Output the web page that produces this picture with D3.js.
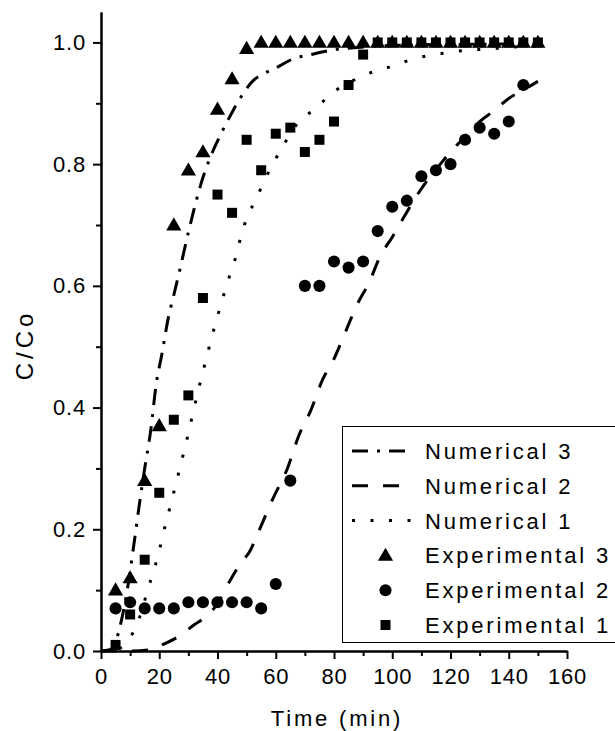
<!DOCTYPE html>
<html>
<head>
<meta charset="utf-8">
<script src="https://cdn.jsdelivr.net/npm/d3@7"></script>
<style>
  html, body { margin: 0; padding: 0; background: #fff; }
  svg { display: block; }
  text { font-family: "Liberation Sans", Arial, sans-serif; fill: #000; }
</style>
</head>
<body>
<svg id="chart" width="615" height="731"></svg>
<script>
// ---------- data ----------
const expTime = [5,10,15,20,25,30,35,40,45,50,55,60,65,70,75,80,85,90,95,100,105,110,115,120,125,130,135,140,145,150];
const exp3 = [0.10,0.12,0.28,0.37,0.70,0.79,0.82,0.89,0.94,0.99,1,1,1,1,1,1,1,1,1,1,1,1,1,1,1,1,1,1,1,1];
const exp2 = [0.07,0.08,0.07,0.07,0.07,0.08,0.08,0.08,0.08,0.08,0.07,0.11,0.28,0.60,0.60,0.64,0.63,0.64,0.69,0.73,0.74,0.78,0.79,0.80,0.84,0.86,0.85,0.87,0.93,null];
const exp1 = [0.01,0.06,0.15,0.26,0.38,0.42,0.58,0.75,0.72,0.84,0.79,0.85,0.86,0.82,0.84,0.87,0.93,0.98,1,1,1,1,1,1,1,1,1,1,1,1];

const num3Time = [0,3,5,7,9,11,13,15,17,19,21,23,25,27,30,33,35,37,40,44,48,52,56,60,66,72,80,86,95,110,130,150];
const num3 = [0,0.002,0.015,0.05,0.1,0.165,0.235,0.3,0.36,0.44,0.49,0.545,0.585,0.625,0.688,0.745,0.778,0.805,0.838,0.876,0.91,0.936,0.949,0.958,0.973,0.98,0.988,0.991,0.994,0.996,0.997,0.998];

const num2Time = [0,10,17,21,27,32,37,40,44,48,51,54,59,64,68,72,76,80,84,88,92,96,100,104,108,112,116,120,125,130,135,140,145,150];
const num2 = [0,0,0.002,0.01,0.025,0.043,0.06,0.078,0.113,0.145,0.163,0.195,0.25,0.3,0.355,0.395,0.445,0.48,0.525,0.57,0.605,0.65,0.68,0.713,0.745,0.773,0.797,0.82,0.845,0.87,0.888,0.908,0.922,0.936];

const num1Time = [0,5,8,10,12,14,16,18,20,22,24,26,28,30,32,34,36,38,40,42,44,46,48,50,53,56,59,63,67,74,80,86,93,100,106,112,119,125,132,138,144,150];
const num1 = [0,0.002,0.01,0.022,0.04,0.066,0.1,0.13,0.165,0.205,0.242,0.28,0.318,0.358,0.4,0.44,0.478,0.515,0.55,0.583,0.614,0.643,0.68,0.711,0.74,0.772,0.8,0.834,0.864,0.893,0.919,0.936,0.951,0.961,0.971,0.978,0.983,0.987,0.989,0.991,0.993,0.994];

const xMajorTicks = [0,20,40,60,80,100,120,140,160];
const xMinorTicks = [10,30,50,70,90,110,130,150];
const yMajorTicks = [0,0.2,0.4,0.6,0.8,1.0];
const yMinorTicks = [0.1,0.3,0.5,0.7,0.9];

const legendItems = [
  {label: "Numerical 3", type: "line", dash: "16,9,3,9"},
  {label: "Numerical 2", type: "line", dash: "16,15"},
  {label: "Numerical 1", type: "line", dash: "3,15.5"},
  {label: "Experimental 3", type: "symbol", symbol: "triangle"},
  {label: "Experimental 2", type: "symbol", symbol: "circle"},
  {label: "Experimental 1", type: "symbol", symbol: "square"}
];

// ---------- chart ----------
const svg = d3.select("#chart");
svg.append("rect").attr("width", 615).attr("height", 731).attr("fill", "#fff");

const x = d3.scaleLinear().domain([0, 160]).range([101, 567]);
const y = d3.scaleLinear().domain([0, 1.05]).range([651, 12]);

const symbols = {
  triangle: d3.symbol().type(d3.symbolTriangle).size(100),
  circle: d3.symbol().type(d3.symbolCircle).size(115),
  square: d3.symbol().type(d3.symbolSquare).size(100)
};

// lines
const lineGen = d3.line().x(d => x(d[0])).y(d => y(d[1])).curve(d3.curveMonotoneX);
const lines = [
  {t: num3Time, v: num3, dash: "16,9,3,9"},
  {t: num2Time, v: num2, dash: "16,15"},
  {t: num1Time, v: num1, dash: "3,15.5"}
];
lines.forEach(l => {
  svg.append("path")
    .attr("d", lineGen(l.t.map((t, i) => [t, l.v[i]])))
    .attr("fill", "none")
    .attr("stroke", "#000")
    .attr("stroke-width", 3)
    .attr("stroke-dasharray", l.dash);
});

// markers
const series = [
  {v: exp1, sym: "square"},
  {v: exp2, sym: "circle"},
  {v: exp3, sym: "triangle"}
];
series.forEach(s => {
  svg.append("g").selectAll("path")
    .data(expTime.map((t, i) => [t, s.v[i]]).filter(d => d[1] !== null))
    .join("path")
    .attr("transform", d => `translate(${x(d[0])},${y(d[1]) + (s.sym === "triangle" ? 1 : 0)})`)
    .attr("d", symbols[s.sym]())
    .attr("fill", "#000");
});

// axes
function styleAxis(g) {
  g.select(".domain").attr("stroke", "#000").attr("stroke-width", 2);
  g.selectAll(".tick line").attr("stroke", "#000").attr("stroke-width", 2);
  g.selectAll("text").style("font-size", "22px").style("letter-spacing", "0.8px")
    .style("font-family", '"Liberation Sans", Arial, sans-serif').attr("fill", "#000");
}

const xAxis = svg.append("g").attr("transform", "translate(0,651)")
  .call(d3.axisBottom(x).tickValues(xMajorTicks).tickFormat(d3.format("d")).tickSize(8).tickPadding(9).tickSizeOuter(0));
styleAxis(xAxis);
const xMinor = svg.append("g").attr("transform", "translate(0,651)")
  .call(d3.axisBottom(x).tickValues(xMinorTicks).tickFormat("").tickSize(5).tickSizeOuter(0));
styleAxis(xMinor);

const yAxis = svg.append("g").attr("transform", "translate(101,0)")
  .call(d3.axisLeft(y).tickValues(yMajorTicks).tickFormat(d3.format(".1f")).tickSize(8).tickPadding(7).tickSizeOuter(0));
styleAxis(yAxis);
const yMinor = svg.append("g").attr("transform", "translate(101,0)")
  .call(d3.axisLeft(y).tickValues(yMinorTicks).tickFormat("").tickSize(5).tickSizeOuter(0));
styleAxis(yMinor);

// axis titles
svg.append("text")
  .attr("x", 337).attr("y", 726)
  .attr("text-anchor", "middle")
  .style("font-size", "22px").style("letter-spacing", "2.8px")
  .text("Time (min)");

svg.append("text")
  .attr("transform", "translate(33,345) rotate(-90)")
  .attr("text-anchor", "middle")
  .style("font-size", "24px").style("letter-spacing", "4px")
  .text("C/Co");

// legend
const lg = svg.append("g");
lg.append("rect")
  .attr("x", 342.5).attr("y", 426.5).attr("width", 280).attr("height", 216)
  .attr("fill", "#fff").attr("stroke", "#000").attr("stroke-width", 1);

legendItems.forEach((it, i) => {
  const cy = 451 + i * 34.8;
  if (it.type === "line") {
    lg.append("line")
      .attr("x1", 352).attr("x2", 413).attr("y1", cy).attr("y2", cy)
      .attr("stroke", "#000").attr("stroke-width", 3)
      .attr("stroke-dasharray", it.dash);
  } else {
    lg.append("path")
      .attr("transform", `translate(385.5,${cy + (it.symbol === "triangle" ? 1 : 0)})`)
      .attr("d", symbols[it.symbol]())
      .attr("fill", "#000");
  }
  lg.append("text")
    .attr("x", 425).attr("y", cy + 8)
    .style("font-size", "22px").style("letter-spacing", "2.8px")
    .text(it.label);
});
</script>
</body>
</html>
